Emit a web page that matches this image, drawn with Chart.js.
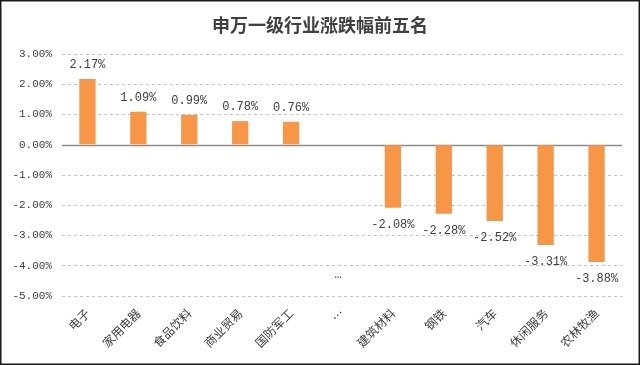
<!DOCTYPE html>
<html>
<head>
<meta charset="utf-8">
<script src="https://cdn.jsdelivr.net/npm/chart.js@4"></script>
<style>
  html, body { margin: 0; padding: 0; background: #fff; }
  #wrap { width: 640px; height: 365px; position: relative; }
</style>
</head>
<body>
<div id="wrap"><canvas id="grafico"></canvas></div>
<script>
// Datos del grafico
const titulo = '申万一级行业涨跌幅前五名';
const industrias = ['电子', '家用电器', '食品饮料', '商业贸易', '国防军工', '…', '建筑材料', '钢铁', '汽车', '休闲服务', '农林牧渔'];
const variaciones = [2.17, 1.09, 0.99, 0.78, 0.76, null, -2.08, -2.28, -2.52, -3.31, -3.88];
const etiquetaHueco = '…';      // etiqueta mostrada en la categoria vacia
const valorHueco = -4.3;        // altura aproximada de esa etiqueta
const ticksY = [3, 2, 1, 0, -1, -2, -3, -4, -5];

const fuenteNum = "'Liberation Mono', 'DejaVu Sans Mono', monospace";
const fuenteCJK = "'Noto Sans CJK SC', sans-serif";

// Plugin: titulo, linea cero, etiquetas de datos y marco
const extras = {
  id: 'extras',
  beforeDatasetsDraw(chart) {
    const { ctx, chartArea, scales } = chart;
    const y0 = Math.round(scales.y.getPixelForValue(0)) + 0.5;
    ctx.save();
    ctx.strokeStyle = '#8c8c8c';
    ctx.lineWidth = 1.5;
    ctx.beginPath();
    ctx.moveTo(chartArea.left, y0);
    ctx.lineTo(chartArea.right, y0);
    ctx.stroke();
    ctx.restore();
  },
  afterDatasetsDraw(chart) {
    const { ctx, scales } = chart;
    const meta = chart.getDatasetMeta(0);
    ctx.save();
    ctx.font = '12px ' + fuenteNum;
    ctx.fillStyle = '#404040';
    ctx.textAlign = 'center';
    ctx.textBaseline = 'middle';
    meta.data.forEach((bar, i) => {
      const v = variaciones[i];
      if (v === null) {
        ctx.fillText(etiquetaHueco, scales.x.getPixelForValue(i) - 4, scales.y.getPixelForValue(valorHueco));
        return;
      }
      const y = v >= 0 ? bar.y - 14 : bar.y + 17;
      ctx.fillText(v.toFixed(2) + '%', bar.x, y);
    });
    // titulo
    ctx.font = 'bold 18px ' + fuenteCJK;
    ctx.fillStyle = '#404040';
    ctx.fillText(titulo, 320, 25);
    // marco
    ctx.strokeStyle = '#1a1a1a';
    ctx.lineWidth = 1.5;
    ctx.strokeRect(0.75, 0.75, 638.5, 363.5);
    ctx.restore();
  }
};

new Chart(document.querySelector('#grafico'), {
  type: 'bar',
  data: {
    labels: industrias,
    datasets: [{
      data: variaciones,
      backgroundColor: '#F79646',
      barPercentage: 0.32,
      categoryPercentage: 1
    }]
  },
  options: {
    responsive: true,
    maintainAspectRatio: false,
    animation: false,
    layout: { padding: { top: 54, right: 18, bottom: 0, left: 0 } },
    plugins: {
      legend: { display: false },
      tooltip: { enabled: false }
    },
    scales: {
      x: {
        grid: { display: false },
        border: { display: false },
        ticks: {
          font: { family: fuenteCJK, size: 12 },
          color: '#404040',
          minRotation: 45,
          maxRotation: 45,
          autoSkip: false,
          padding: 2
        },
        afterFit(scale) { scale.height = 69; }
      },
      y: {
        min: -5,
        max: 3,
        afterBuildTicks(scale) { scale.ticks = ticksY.map(v => ({ value: v })); },
        grid: {
          color: (c) => c.tick && c.tick.value === 0 ? 'rgba(0,0,0,0)' : '#c4c4c4',
          drawTicks: false
        },
        border: { display: false, dash: [3, 3] },
        ticks: {
          font: { family: fuenteNum, size: 11 },
          color: '#404040',
          padding: 10,
          callback: (v) => v.toFixed(2) + '%'
        },
        afterFit(scale) { scale.width = 62; }
      }
    }
  },
  plugins: [extras]
});
</script>
</body>
</html>
